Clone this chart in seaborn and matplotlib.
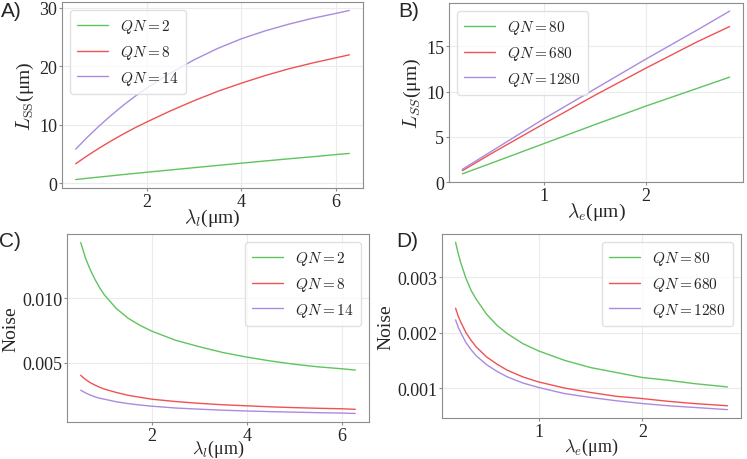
import numpy as np
import pandas as pd
import matplotlib.pyplot as plt
import seaborn as sns

# values
lam_l = [0.5, 0.75, 1.0, 1.25, 1.5, 1.75, 2.0, 2.5, 3.0, 3.5, 4.0, 4.5, 5.0, 5.5, 6.0, 6.28]
lss_l = {
    '$QN=2$':  [0.6, 0.82, 1.03, 1.24, 1.45, 1.65, 1.85, 2.24, 2.63, 3.02, 3.4, 3.78, 4.15, 4.5, 4.88, 5.07],
    '$QN=8$':  [3.3, 4.7, 6.0, 7.22, 8.37, 9.45, 10.45, 12.35, 14.1, 15.7, 17.1, 18.4, 19.55, 20.55, 21.45, 21.95],
    '$QN=14$': [5.8, 7.88, 9.8, 11.6, 13.28, 14.83, 16.25, 18.8, 21.1, 23.05, 24.7, 26.05, 27.2, 28.2, 29.05, 29.55],
}

lam_e = [0.2, 0.5, 1.0, 1.5, 2.0, 2.5, 2.82]
lss_e = {
    '$QN=80$':   [0.9, 2.15, 4.25, 6.35, 8.4, 10.35, 11.6],
    '$QN=680$':  [1.25, 3.25, 6.45, 9.6, 12.6, 15.5, 17.2],
    '$QN=1280$': [1.4, 3.5, 7.0, 10.3, 13.6, 16.8, 18.9],
}

lam_l_n = [0.5, 0.55, 0.6, 0.7, 0.8, 0.9, 1.0, 1.25, 1.5, 1.75, 2.0, 2.5, 3.0, 3.5, 4.0, 4.5, 5.0, 5.5, 6.0, 6.28]
noise_l = {
    '$QN=2$':  [14.3, 13.7, 13.1, 12.2, 11.45, 10.8, 10.25, 9.2, 8.45, 7.9, 7.45, 6.75,
                6.25, 5.8, 5.45, 5.15, 4.9, 4.7, 4.55, 4.45],
    '$QN=8$':  [4.05, 3.88, 3.73, 3.48, 3.29, 3.12, 2.98, 2.72, 2.5, 2.35, 2.2, 2.02,
                1.88, 1.77, 1.69, 1.61, 1.55, 1.5, 1.46, 1.42],
    '$QN=14$': [2.9, 2.79, 2.69, 2.52, 2.38, 2.27, 2.2, 2.0, 1.86, 1.75, 1.66, 1.52,
                1.43, 1.35, 1.29, 1.24, 1.2, 1.16, 1.13, 1.1],
}

lam_e_n = [0.2, 0.225, 0.25, 0.3, 0.35, 0.4, 0.5, 0.6, 0.7, 0.85, 1.0, 1.25, 1.5, 1.75, 2.0, 2.25, 2.5, 2.82]
noise_e = {
    '$QN=80$':   [3.63, 3.43, 3.26, 2.98, 2.76, 2.6, 2.33, 2.13, 1.98, 1.8, 1.67, 1.5,
                  1.37, 1.28, 1.19, 1.14, 1.08, 1.02],
    '$QN=680$':  [2.44, 2.3, 2.19, 2.0, 1.86, 1.74, 1.56, 1.43, 1.32, 1.2, 1.11, 1.0,
                  0.92, 0.85, 0.81, 0.76, 0.72, 0.68],
    '$QN=1280$': [2.23, 2.1, 2.0, 1.82, 1.69, 1.58, 1.42, 1.3, 1.2, 1.09, 1.01, 0.9,
                  0.83, 0.77, 0.72, 0.68, 0.65, 0.61],
}

panel_tags = ['A' + ')', 'B' + ')', 'C' + ')', 'D' + ')']
colors = ['#5fc45f', '#f05252', '#a98be0']


def long_df(x, series, scale=1.0):
    rows = []
    for name, vals in series.items():
        for xi, yi in zip(x, vals):
            rows.append({'x': xi, 'y': yi * scale, 'QN': name})
    return pd.DataFrame(rows)


sns.set_style('whitegrid', {'axes.edgecolor': '0.55', 'grid.color': '0.92',
                            'xtick.bottom': True, 'ytick.left': True,
                            'xtick.color': '0.15', 'ytick.color': '0.15'})
plt.rcParams['font.family'] = ['Liberation Serif', 'DejaVu Serif']
plt.rcParams['mathtext.fontset'] = 'cm'

fig, axes = plt.subplots(2, 2, figsize=(7.47, 4.6), dpi=100)
W, H = 747, 460
boxes = [(62, 3, 363, 189), (449, 4, 743, 183), (67, 235, 369, 423), (442, 235, 741, 419)]
for ax, (l, t, r, b) in zip(axes.flat, boxes):
    ax.set_position([l / W, 1 - b / H, (r - l) / W, (b - t) / H])

panels = [
    (axes[0, 0], long_df(lam_l, lss_l), r'$\lambda_l$(μm)', r'$L_{\rm SS}$(μm)', 'upper left'),
    (axes[0, 1], long_df(lam_e, lss_e), r'$\lambda_e$(μm)', r'$L_{SS}$(μm)', 'upper left'),
    (axes[1, 0], long_df(lam_l_n, noise_l, 1e-3), r'$\lambda_l$(μm)', 'Noise', 'upper right'),
    (axes[1, 1], long_df(lam_e_n, noise_e, 1e-3), r'$\lambda_e$(μm)', 'Noise', 'upper right'),
]

for ax, df, xl, yl, loc in panels:
    sns.lineplot(data=df, x='x', y='y', hue='QN', palette=colors, linewidth=1, ax=ax)
    ax.set_xlabel(xl, fontsize=14, labelpad=-2)
    ax.set_ylabel(yl, fontsize=14, labelpad=2)
    ax.tick_params(labelsize=13, pad=1, length=2.5, color='0.55')
    handles, labels = ax.get_legend_handles_labels()
    ax.legend(handles, labels, loc=loc, fontsize=11, frameon=True,
              edgecolor='0.85', handlelength=2.0, borderpad=0.5, labelspacing=0.5)

# bottom row labels sit right at the figure edge
axes[1, 0].set_xlabel(r'$\lambda_l$(μm)', fontsize=13, labelpad=-4)
axes[1, 1].set_xlabel(r'$\lambda_e$(μm)', fontsize=13, labelpad=-3)

axes[0, 0].set_yticks([0, 10, 20, 30])
axes[0, 0].set_xticks([2, 4, 6])
axes[0, 1].set_yticks([0, 5, 10, 15])
axes[0, 1].set_xticks([1, 2])
axes[1, 0].set_yticks([0.005, 0.010])
axes[1, 0].set_xticks([2, 4, 6])
axes[1, 1].set_yticks([0.001, 0.002, 0.003])
axes[1, 1].set_xticks([1, 2])

tag_x = [1, 398, -1, 396]
tag_y = [2, 2, 232, 232]
for txt, px, py in zip(panel_tags, tag_x, tag_y):
    fig.text(px / W, 1 - py / H, txt, ha='left', va='top', fontsize=15,
             family=['Liberation Sans', 'DejaVu Sans'])

fig.savefig('out.png', dpi=100)
